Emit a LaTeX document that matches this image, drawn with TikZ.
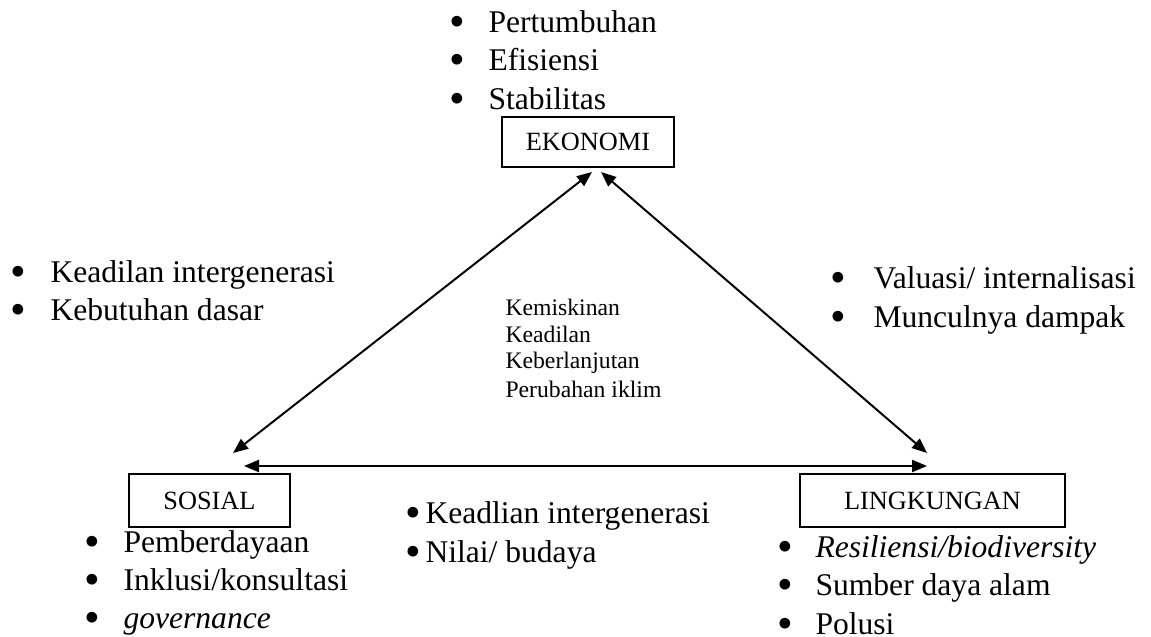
\documentclass[tikz,border=0pt]{standalone}
\usepackage{fontspec}
\setmainfont{Liberation Serif}
\usetikzlibrary{arrows.meta}
\begin{document}
\begin{tikzpicture}[x=0.38pt,y=-0.38pt,
  txt/.style={inner sep=0pt,anchor=base west,font=\fontsize{12}{14}\selectfont},
  bul/.style={inner sep=0pt,anchor=base,font=\fontsize{17}{17}\selectfont,yshift=-1.6pt,text height=7pt,text depth=0pt},
  small/.style={inner sep=0pt,anchor=base west,font=\fontsize{9}{11}\selectfont},
  box/.style={draw,line width=0.75pt,inner sep=0pt,font=\fontsize{10}{12}\selectfont},
  link/.style={line width=0.75pt,{Triangle[length=5.7pt,width=4.6pt]}-{Triangle[length=5.7pt,width=4.6pt]}}
]
\useasboundingbox (0,0) rectangle (1151,636);

% boxes
\node[box,minimum width=65.4pt,minimum height=19pt] (eko) at (588,142) {EKONOMI};
\node[box,minimum width=61.2pt,minimum height=20.1pt] (sos) at (209.5,500.5) {SOSIAL};
\node[box,minimum width=100.7pt,minimum height=20.1pt] (lin) at (932.5,500.5) {LINGKUNGAN};

% arrow ends
\coordinate (ekoL) at (592,172);
\coordinate (ekoR) at (601,172);
\coordinate (sosT) at (233,453);
\coordinate (sosR) at (244,466);
\coordinate (linT) at (927,453);
\coordinate (linL) at (927,466);
\draw[link] (sosT) -- (ekoL);
\draw[link] (ekoR) -- (linT);
\draw[link] (sosR) -- (linL);

% top list
\node[bul] (tb1) at (457,32) {\textbullet};
\node[txt] (t1) at (488,32) {Pertumbuhan};
\node[bul] (tb2) at (457,70) {\textbullet};
\node[txt] (t2) at (488,70) {Efisiensi};
\node[bul] (tb3) at (457,109) {\textbullet};
\node[txt] (t3) at (488,109) {Stabilitas};

% left list
\node[bul] (lb1) at (18,282) {\textbullet};
\node[txt] (l1) at (50,282) {Keadilan intergenerasi};
\node[bul] (lb2) at (18,320) {\textbullet};
\node[txt] (l2) at (50,320) {Kebutuhan dasar};

% right list
\node[bul] (rb1) at (838,288) {\textbullet};
\node[txt] (r1) at (873,288) {Valuasi/ internalisasi};
\node[bul] (rb2) at (838,327) {\textbullet};
\node[txt] (r2) at (873,327) {Munculnya dampak};

% centre
\node[small] (c1) at (505,315) {Kemiskinan};
\node[small] (c2) at (505,342) {Keadilan};
\node[small] (c3) at (505,368) {Keberlanjutan};
\node[small] (c4) at (505,397) {Perubahan iklim};

% bottom middle list
\node[bul] (mb1) at (413,523) {\textbullet};
\node[txt] (m1) at (425,523) {Keadlian intergenerasi};
\node[bul] (mb2) at (413,562) {\textbullet};
\node[txt] (m2) at (425,562) {Nilai/ budaya};

% sosial list
\node[bul] (sb1) at (92,552) {\textbullet};
\node[txt] (s1) at (123,552) {Pemberdayaan};
\node[bul] (sb2) at (92,590) {\textbullet};
\node[txt] (s2) at (123,590) {Inklusi/konsultasi};
\node[bul] (sb3) at (92,628) {\textbullet};
\node[txt] (s3) at (123,628) {\textit{governance}};

% lingkungan list
\node[bul] (gb1) at (785,557) {\textbullet};
\node[txt] (g1) at (815,557) {\textit{Resiliensi/biodiversity}};
\node[bul] (gb2) at (785,595) {\textbullet};
\node[txt] (g2) at (815,595) {Sumber daya alam};
\node[bul] (gb3) at (785,634) {\textbullet};
\node[txt] (g3) at (815,634) {Polusi};
\end{tikzpicture}
\end{document}
